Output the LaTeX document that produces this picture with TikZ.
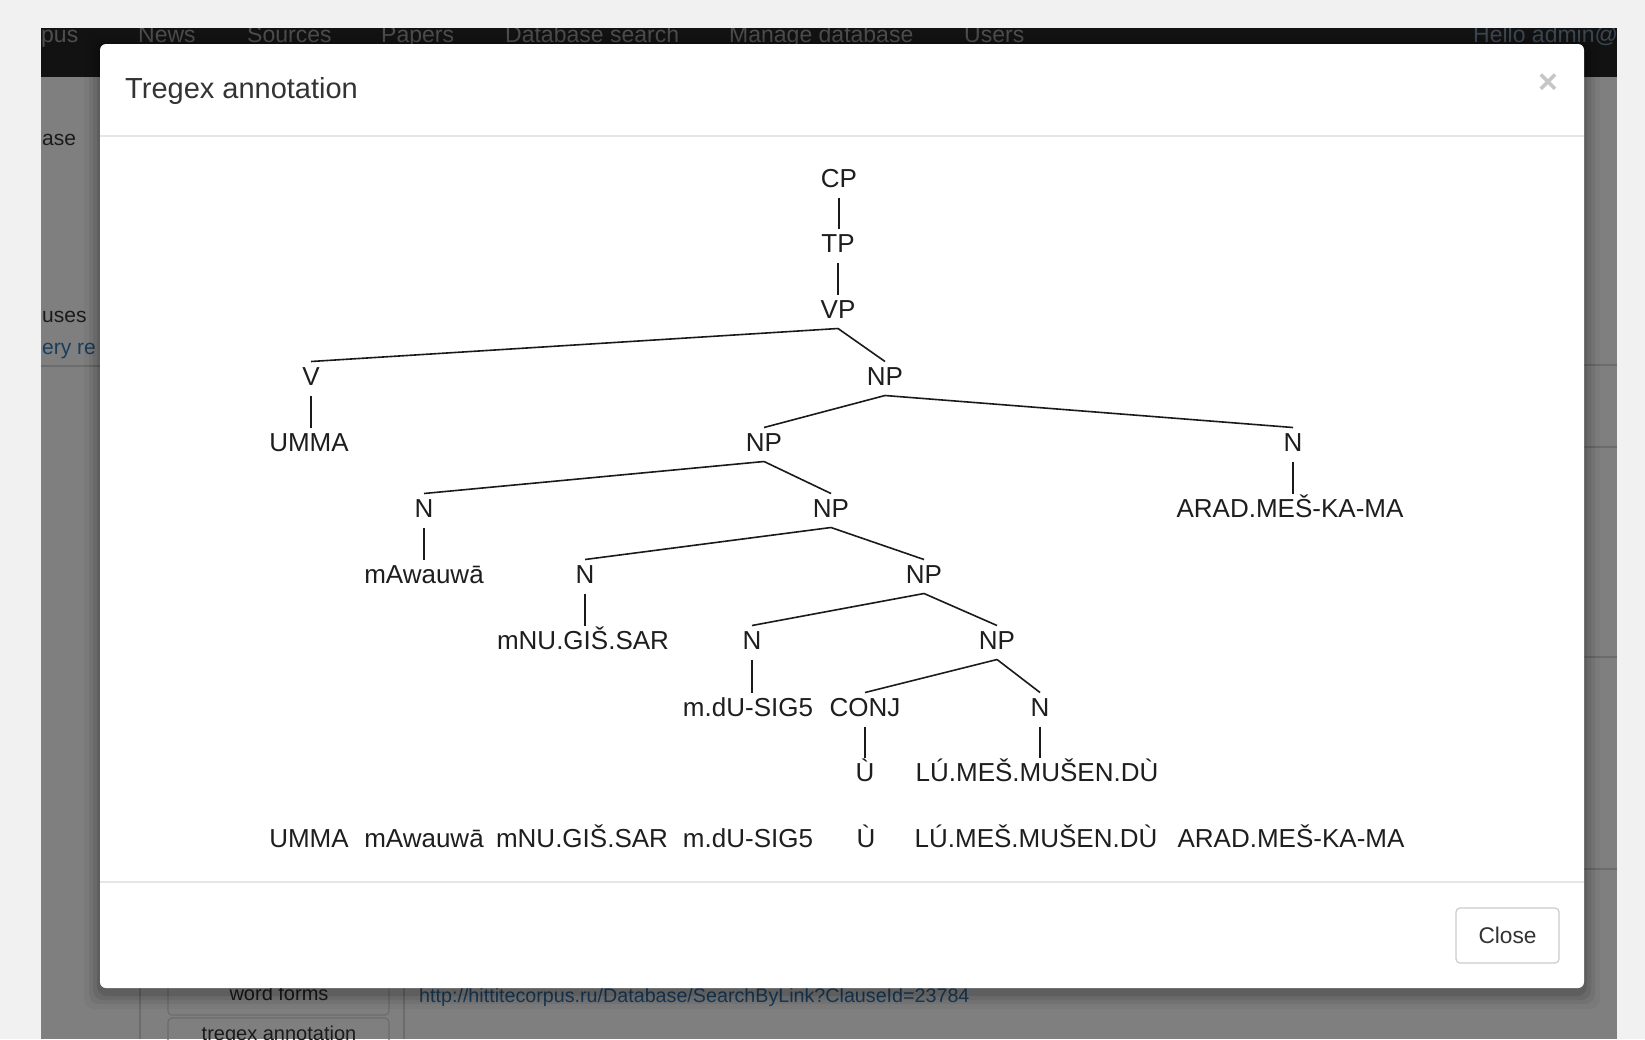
\documentclass[tikz,border=0pt]{standalone}
\usepackage{fontspec}
\setmainfont{Liberation Sans}
\definecolor{outerbg}{HTML}{F1F1F1}
\definecolor{pagegray}{HTML}{7F7F7F}
\definecolor{navbar}{HTML}{121212}
\definecolor{navtext}{HTML}{4E4E4E}
\definecolor{hellotext}{HTML}{3C4753}
\definecolor{bgline}{HTML}{6C6C6C}
\definecolor{bgtext}{HTML}{1A1A1A}
\definecolor{bglink}{HTML}{1A3D5C}
\definecolor{divider}{HTML}{E5E5E5}
\definecolor{titletext}{HTML}{333333}
\definecolor{closex}{HTML}{C6C6C6}
\definecolor{btnborder}{HTML}{CCCCCC}
\definecolor{treetext}{HTML}{1E1E1E}
\definecolor{treeline}{HTML}{1A1A1A}
\begin{document}
\begin{tikzpicture}[x=1pt,y=-1pt,
  tn/.style={font=\fontsize{26}{30}\selectfont, text=treetext, inner xsep=0pt, inner ysep=5pt, text height=18.6pt, text depth=0pt},
  edge/.style={draw=treeline, line width=1.6pt},
  navtxt/.style={font=\fontsize{23}{27}\selectfont, text=navtext, anchor=base west, inner sep=0pt},
  bgtxt/.style={font=\fontsize{21}{25}\selectfont, text=bgtext, anchor=base west, inner sep=0pt},
  bgrule/.style={draw=bgline, line width=1.2pt},
  bgbtn/.style={draw=bgline, line width=1.2pt, rounded corners=4pt}]
\useasboundingbox (0,0) rectangle (1645,1039);
\fill[outerbg] (0,0) rectangle (1645,1039);
\begin{scope}
\clip (41,28) rectangle (1617,1039);
\fill[pagegray] (41,28) rectangle (1617,1039);
\fill[navbar] (41,28) rectangle (1617,77);
\node[navtxt] (n1) at (41,42) {pus};
\node[navtxt] (n2) at (138,42) {News};
\node[navtxt] (n3) at (247,42) {Sources};
\node[navtxt] (n4) at (381,42) {Papers};
\node[navtxt] (n5) at (505,42) {Database search};
\node[navtxt] (n6) at (729,42) {Manage database};
\node[navtxt] (n7) at (964,42) {Users};
\node[navtxt, text=hellotext] (n8) at (1473,42) {Hello admin@};
% left page remnants
\node[bgtxt] (l1) at (42,145) {ase};
\node[bgtxt] (l2) at (42,322) {uses};
\node[bgtxt, text=bglink] (l3) at (42,354) {ery re};
\draw[bgrule] (41,366) -- (100,366);
% right page remnants
\draw[bgrule] (1584,365) -- (1617,365);
\draw[bgrule] (1584,447) -- (1617,447);
\draw[bgrule] (1584,657) -- (1617,657);
\draw[bgrule] (1584,869) -- (1617,869);
% bottom page remnants
\draw[bgrule] (140,960) -- (140,1039);
\draw[bgrule] (404,960) -- (404,1039);
\draw[bgbtn] (168,930) rectangle (389,1015);
\draw[bgbtn] (168,1018) rectangle (389,1070);
\node[font=\fontsize{20}{24}\selectfont, text=bgtext] (wf) at (279,993) {word forms};
\node[font=\fontsize{20}{24}\selectfont, text=bgtext] (ta) at (279,1035) {tregex annotation};
\node[font=\fontsize{19.7}{24}\selectfont, text=bglink, anchor=base west, inner sep=0pt] (lnk) at (419,1002) {http://hittitecorpus.ru/Database/SearchByLink?ClauseId=23784};
% modal shadow
\foreach \s/\o in {16/0.04, 11/0.06, 7/0.08, 3/0.10}
  \fill[black, opacity=\o, rounded corners=10pt] (100-\s,49-\s) rectangle (1584+\s,993+\s);
\end{scope}
% modal
\fill[white, rounded corners=6pt] (100,44) rectangle (1584,988);
\draw[divider, line width=1.3pt] (100,136) -- (1584,136);
\draw[divider, line width=1.3pt] (100,882) -- (1584,882);
\node[anchor=base west, inner sep=0pt, font=\fontsize{29}{34}\selectfont, text=titletext] (title) at (125,98) {Tregex annotation};
\node[font=\fontsize{34}{40}\selectfont\bfseries, text=closex] (xx) at (1548,84) {×};
\node[draw=btnborder, line width=1.2pt, rounded corners=4pt, minimum width=103pt, minimum height=55pt, font=\fontsize{22.7}{27}\selectfont, text=titletext] (close) at (1507.5,935.5) {Close};
% tree
\node[tn] (cp) at (839,178) {CP};
\node[tn] (tp) at (838,243) {TP};
\node[tn] (vp) at (838,309) {VP};
\node[tn] (v) at (311,376) {V};
\node[tn] (np1) at (885,376) {NP};
\node[tn] (umma) at (309,442) {UMMA};
\node[tn] (np2) at (764,442) {NP};
\node[tn] (na) at (1293,442) {N};
\node[tn] (nm) at (424,508) {N};
\node[tn] (np3) at (831,508) {NP};
\node[tn] (arad) at (1290,508) {ARAD.MEŠ-KA-MA};
\node[tn] (maw) at (424,574) {mAwauwā};
\node[tn] (nn) at (585,574) {N};
\node[tn] (np4) at (924,574) {NP};
\node[tn] (mnu) at (583,640) {mNU.GIŠ.SAR};
\node[tn] (nd) at (752,640) {N};
\node[tn] (np5) at (997,640) {NP};
\node[tn] (mdu) at (748,707) {m.dU-SIG5};
\node[tn] (conj) at (865,707) {CONJ};
\node[tn] (nl) at (1040,707) {N};
\node[tn] (u) at (865,772) {Ù};
\node[tn] (lu) at (1037,772) {LÚ.MEŠ.MUŠEN.DÙ};
\node[tn] (b1) at (309,838) {UMMA};
\node[tn] (b2) at (424,838) {mAwauwā};
\node[tn] (b3) at (582,838) {mNU.GIŠ.SAR};
\node[tn] (b4) at (748,838) {m.dU-SIG5};
\node[tn] (b5) at (866,838) {Ù};
\node[tn] (b6) at (1036,838) {LÚ.MEŠ.MUŠEN.DÙ};
\node[tn] (b7) at (1291,838) {ARAD.MEŠ-KA-MA};
% branching edges
\foreach \p/\c in {vp/v, vp/np1, np1/np2, np1/na, np2/nm, np2/np3, np3/nn,
  np3/np4, np4/nd, np4/np5, np5/conj, np5/nl}
  \draw[edge] ([yshift=-5pt]\p.south) -- (\c.north);
% unary (vertical) edges
\foreach \p/\c in {cp/tp, tp/vp, v/umma, na/arad, nm/maw, nn/mnu, nd/mdu, conj/u, nl/lu}
  \draw[edge] ([yshift=-5pt]\p.south) -- (\p.south |- \c.north);
\end{tikzpicture}
\end{document}
